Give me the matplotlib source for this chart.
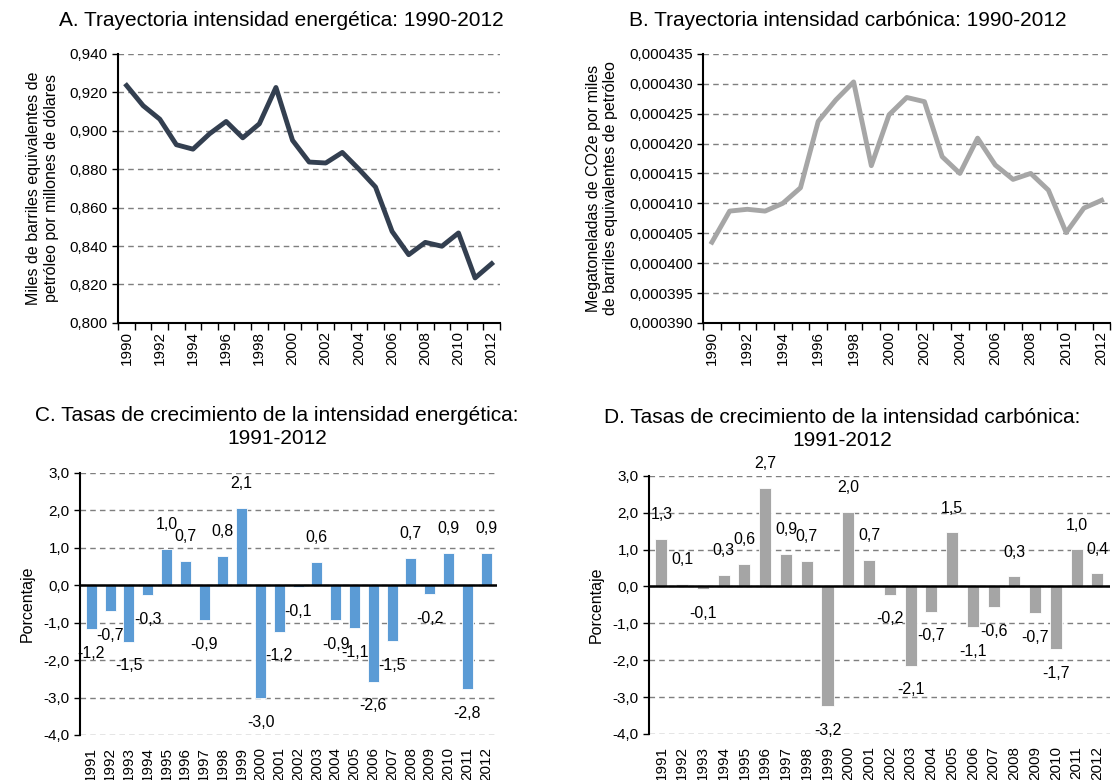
import numpy as np
import matplotlib.pyplot as plt
from matplotlib.ticker import FuncFormatter

plt.rcParams['font.family'] = ['Liberation Sans', 'DejaVu Sans']

years_lvl = list(range(1990, 2013))
years_gr = list(range(1991, 2013))

intensidad_energetica = [0.9235, 0.9130, 0.9060, 0.8927, 0.8904, 0.8984, 0.9048, 0.8963,
                         0.9036, 0.9225, 0.8950, 0.8837, 0.8832, 0.8887, 0.8800, 0.8707,
                         0.8476, 0.8355, 0.8419, 0.8399, 0.8468, 0.8234, 0.8308]

intensidad_carbonica = [0.0004035, 0.0004087, 0.0004090, 0.0004087, 0.0004100, 0.0004126,
                        0.0004237, 0.0004273, 0.0004303, 0.0004163, 0.0004248, 0.0004277,
                        0.0004270, 0.0004178, 0.0004150, 0.0004209, 0.0004164, 0.0004140,
                        0.0004150, 0.0004122, 0.0004051, 0.0004092, 0.0004105]

tasa_energetica = [-1.18, -0.70, -1.51, -0.27, 0.98, 0.65, -0.93, 0.79, 2.06, -3.01, -1.24,
                   -0.06, 0.63, -0.93, -1.15, -2.58, -1.49, 0.73, -0.23, 0.86, -2.77, 0.87]

tasa_carbonica = [1.29, 0.07, -0.07, 0.32, 0.62, 2.67, 0.88, 0.70, -3.25, 2.02, 0.72, -0.22,
                  -2.15, -0.68, 1.47, -1.11, -0.57, 0.27, -0.72, -1.70, 1.01, 0.36]


def comma_fmt(decimals):
    return FuncFormatter(lambda v, p: '{:.{}f}'.format(v, decimals).replace('.', ','))


def base_axes(ax):
    ax.spines['top'].set_visible(False)
    ax.spines['right'].set_visible(False)
    ax.spines['left'].set_linewidth(1.5)
    ax.yaxis.grid(True, linestyle=(0, (4, 3)), color='#7f7f7f', linewidth=1)
    ax.set_axisbelow(True)
    ax.tick_params(axis='y', labelsize=11, length=4, width=1)


def line_panel(ax, vals, color, ylim, step, decimals, ylabel):
    x = np.arange(len(years_lvl))
    ax.plot(x, vals, color=color, linewidth=3.5, solid_joinstyle='round')
    ax.set_xlim(-0.5, len(x) - 0.5)
    ax.set_ylim(*ylim)
    ax.set_yticks(np.arange(ylim[0], ylim[1] + step / 2, step))
    ax.yaxis.set_major_formatter(comma_fmt(decimals))
    base_axes(ax)
    ax.spines['bottom'].set_linewidth(1.5)
    ax.set_xticks(x[::2])
    ax.set_xticklabels([str(y) for y in years_lvl[::2]], rotation=90, fontsize=11)
    ax.set_xticks(np.arange(-0.5, len(x)), minor=True)
    ax.tick_params(axis='x', which='major', length=0, pad=6)
    ax.tick_params(axis='x', which='minor', length=5, width=1)
    ax.set_ylabel(ylabel, fontsize=11.5, labelpad=8)


def bar_panel(ax, vals, color):
    x = np.arange(len(years_gr))
    ax.bar(x, vals, width=0.58, color=color, edgecolor='white', linewidth=0.6)
    ax.set_xlim(-0.6, len(x) - 0.4)
    ax.set_ylim(-4, 3)
    ax.set_yticks(np.arange(-4, 3.5, 1))
    ax.yaxis.set_major_formatter(comma_fmt(1))
    base_axes(ax)
    ax.spines['bottom'].set_visible(False)
    ax.axhline(0, color='black', linewidth=1.8, zorder=3)
    ax.set_xticks(x)
    ax.set_xticklabels([str(y) for y in years_gr], rotation=90, fontsize=11)
    ax.tick_params(axis='x', length=0, pad=9)
    for xi, v in zip(x, vals):
        lbl = '{:.1f}'.format(v).replace('.', ',')
        if v >= 0:
            ax.annotate(lbl, (xi, v), xytext=(0, 12), textcoords='offset points',
                        ha='center', va='bottom', fontsize=11.5)
        else:
            ax.annotate(lbl, (xi, v), xytext=(0, -12), textcoords='offset points',
                        ha='center', va='top', fontsize=11.5)
    ax.set_ylabel('Porcentaje', fontsize=11.5, labelpad=6)


fig = plt.figure(figsize=(11.16, 7.8), dpi=100)
ax_a = fig.add_axes([0.106, 0.586, 0.342, 0.345])
ax_b = fig.add_axes([0.630, 0.586, 0.365, 0.345])
ax_c = fig.add_axes([0.0717, 0.0577, 0.374, 0.336])
ax_d = fig.add_axes([0.5815, 0.0590, 0.413, 0.331])

line_panel(ax_a, intensidad_energetica, '#333f50', (0.80, 0.94), 0.02, 3,
           'Miles de barriles equivalentes de\npetróleo por millones de dólares')
line_panel(ax_b, intensidad_carbonica, '#a6a6a6', (0.000390, 0.000435), 0.000005, 6,
           'Megatoneladas de CO2e por miles\nde barriles equivalentes de petróleo')
bar_panel(ax_c, tasa_energetica, '#5b9bd5')
bar_panel(ax_d, tasa_carbonica, '#a5a5a5')

title_kw = dict(fontsize=15, ha='center', va='center', linespacing=1.25)
fig.text(0.252, 0.974, 'A. Trayectoria intensidad energética: 1990-2012', **title_kw)
fig.text(0.760, 0.974, 'B. Trayectoria intensidad carbónica: 1990-2012', **title_kw)
fig.text(0.248, 0.453, 'C. Tasas de crecimiento de la intensidad energética:\n1991-2012', **title_kw)
fig.text(0.755, 0.450, 'D. Tasas de crecimiento de la intensidad carbónica:\n1991-2012', **title_kw)

fig.savefig('out.png', dpi=100)
